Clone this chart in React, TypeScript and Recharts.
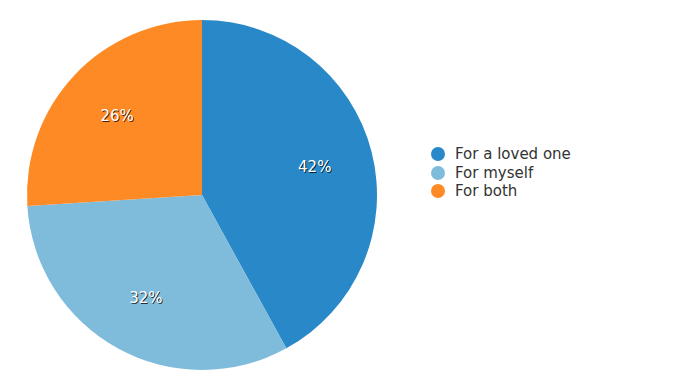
import { PieChart, Pie, Cell, Legend } from "recharts"

const categories = ["For a loved one", "For myself", "For both"]
const shares = [42, 32, 26]
const colors = ["#2989c8", "#7fbbdb", "#fe8a26"]

const data = categories.map((name, i) => ({ name, value: shares[i], color: colors[i] }))

const RADIAN = Math.PI / 180
const FONT = "DejaVu Sans, Verdana, sans-serif"

const renderLabel = ({ cx, cy, midAngle, outerRadius, percent }: any) => {
  const r = outerRadius * 0.665
  const x = cx + r * Math.cos(-midAngle * RADIAN)
  const y = cy + r * Math.sin(-midAngle * RADIAN) + 1
  const txt = `${Math.round(percent * 100)}%`
  return (
    <g>
      <text
        x={x + 1}
        y={y + 1}
        fill="rgba(0,0,0,0.75)"
        textAnchor="middle"
        dominantBaseline="central"
        fontSize={15}
        fontFamily={FONT}
        filter="url(#lblBlur)"
      >
        {txt}
      </text>
      <text x={x} y={y} fill="#ffffff" textAnchor="middle" dominantBaseline="central" fontSize={15} fontFamily={FONT}>
        {txt}
      </text>
    </g>
  )
}

const renderLegend = () => (
  <div style={{ fontFamily: FONT, fontSize: 15, color: "#333" }}>
    {data.map((d) => (
      <div key={d.name} style={{ display: "flex", alignItems: "center", height: 18.5 }}>
        <span
          style={{
            display: "inline-block",
            width: 14,
            height: 14,
            borderRadius: "50%",
            background: d.color,
            marginRight: 10,
          }}
        />
        <span>{d.name}</span>
      </div>
    ))}
  </div>
)

export default function App() {
  return (
    <div style={{ position: "fixed", left: 0, top: 0, width: 675, height: 389, background: "#fff" }}>
      <PieChart width={675} height={389} margin={{ top: 0, right: 0, bottom: 0, left: 0 }}>
        <defs>
          <filter id="lblBlur" x="-20%" y="-20%" width="140%" height="140%">
            <feGaussianBlur stdDeviation="0.6" />
          </filter>
        </defs>
        <Pie
          data={data}
          dataKey="value"
          cx={202}
          cy={195}
          outerRadius={175}
          startAngle={90}
          endAngle={-270}
          stroke="none"
          label={renderLabel}
          labelLine={false}
          isAnimationActive={false}
        >
          {data.map((entry, index) => (
            <Cell key={`cell-${index}`} fill={entry.color} />
          ))}
        </Pie>
        <Legend content={renderLegend} wrapperStyle={{ left: 431, top: 145, width: 220 }} />
      </PieChart>
    </div>
  )
}
